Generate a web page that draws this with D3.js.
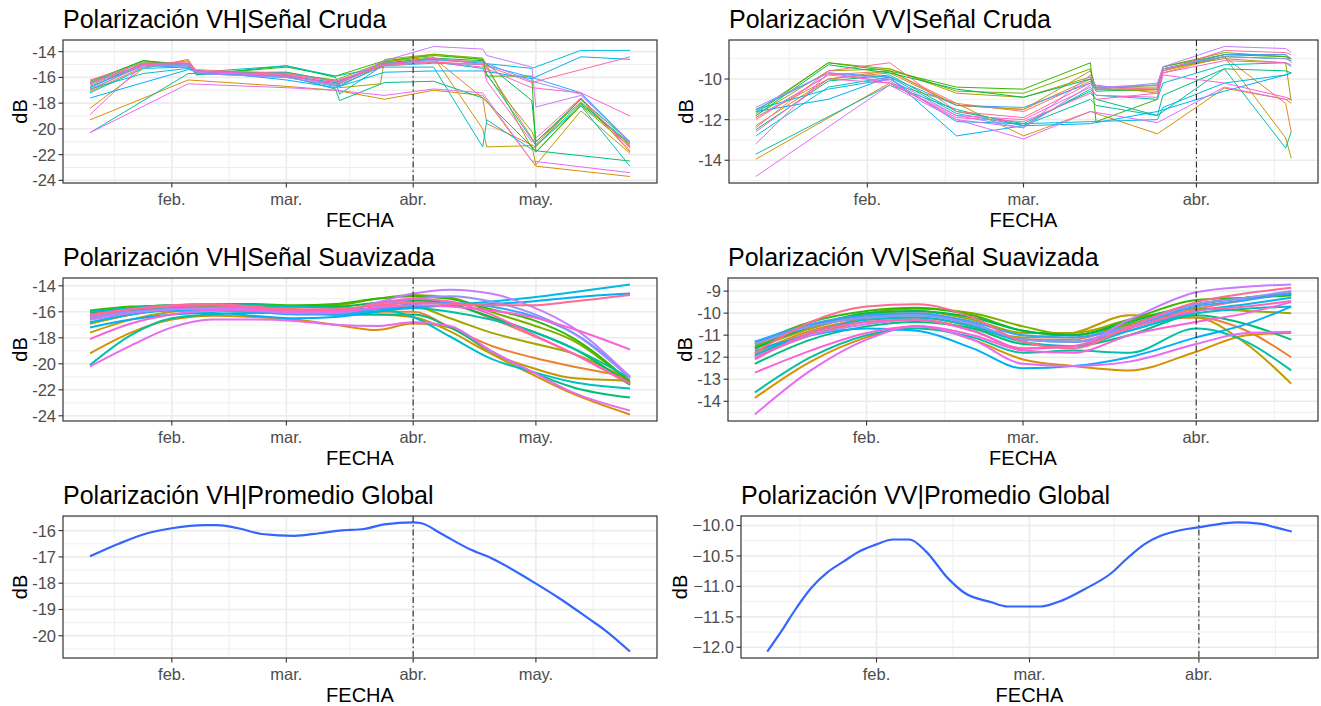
<!DOCTYPE html>
<html><head><meta charset="utf-8">
<script src="https://cdn.jsdelivr.net/npm/d3@7"></script>
<style>body{margin:0;background:#fff}svg{display:block}text{font-family:"Liberation Sans",Arial,sans-serif}</style>
</head><body><svg id="c" width="1321" height="706"></svg>
<script>
// ---------- DATA ----------
const palette = ["#F8766D","#EA8331","#D89000","#C09B00","#A3A500","#7CAE00","#39B600","#00BB4E","#00BF7D","#00C1A3",
                 "#00BFC4","#00BAE0","#00B0F6","#35A2FF","#9590FF","#C77CFF","#E76BF3","#FA62DB","#FF62BC","#FF6C91"];
const monthLabels = ["ene.","feb.","mar.","abr.","may.","jun."];
const refDate = "2021-04-01";

const vhRawDates = ["2021-01-12","2021-01-25","2021-02-05","2021-02-07","2021-03-01","2021-03-13","2021-03-14","2021-03-24",
                    "2021-03-25","2021-04-06","2021-04-18","2021-04-19","2021-04-30","2021-05-01","2021-05-12","2021-05-24"];
const vhRaw = [
 [-16.6,-15.0,-15.0,-15.6,-15.9,-16.4,null,null,-14.9,-14.6,-14.8,null,null,-21.2,-17.7,-21.7],
 [-17.1,-15.2,-14.7,-15.5,-15.8,-16.6,null,null,-14.9,-14.5,-17.6,-19.6,null,-21.4,-17.6,-21.8],
 [-19.3,null,-16.2,null,-16.7,-17.0,null,null,-17.7,-17.0,-17.4,null,null,-22.9,null,-23.7],
 [-18.4,-15.3,-14.6,-15.6,-15.8,-16.6,null,null,-14.8,-14.4,-20.0,-21.4,-21.3,-22.8,-18.6,-21.9],
 [-17.0,-15.0,-14.9,-15.6,-15.6,-16.3,-16.8,-16.5,-14.6,-14.2,-14.6,-15.8,-20.2,-21.0,-17.9,-21.3],
 [-16.5,-14.8,-15.0,-15.5,-15.7,-16.2,null,null,-14.8,-14.2,-14.5,null,-21.5,-21.8,-18.2,-21.4],
 [-16.3,-14.7,-15.0,-15.8,-15.2,-15.9,null,null,-14.7,-14.3,-14.6,-15.9,-15.9,-21.8,-18.1,-21.2],
 [-16.4,-14.7,-15.1,-15.8,-15.1,-16.0,-16.7,null,-14.9,-14.5,-14.7,null,-17.8,-21.0,-17.7,-21.0],
 [-16.8,-14.9,-15.0,-15.7,-15.9,-16.9,-17.8,null,-16.4,-16.3,-17.6,null,null,-21.7,null,-22.5],
 [-20.3,null,-15.7,null,-15.6,-16.3,-17.3,null,-15.0,-14.8,-15.3,null,-20.8,-21.3,-18.0,-21.1],
 [-16.9,-15.7,-15.3,-15.6,-15.1,-15.9,null,null,-15.2,-15.2,-21.4,-19.3,-21.6,null,-18.2,-22.9],
 [-17.2,-15.3,-15.2,-15.6,-15.9,-16.4,null,null,-15.0,-14.6,-14.9,null,-15.3,null,-13.9,-13.9],
 [-17.6,null,-15.4,null,-16.2,-16.8,null,null,-15.6,-15.5,-15.5,null,-16.1,null,-14.4,-14.6],
 [-16.7,-15.1,-15.2,-15.7,-16.0,-16.7,null,null,-15.1,-14.9,-15.0,null,-16.0,null,-17.2,-21.0],
 [-16.5,-15.0,-15.1,-15.7,-16.0,-16.6,null,null,-14.9,-14.7,-14.8,null,-16.3,null,-17.3,-21.1],
 [-16.9,-15.1,-15.0,-15.6,-15.9,-16.5,null,null,-14.7,-13.6,-13.8,-14.3,-15.2,-18.3,-17.4,-21.0],
 [-20.3,null,-16.5,null,-16.8,-17.0,null,null,-17.4,-16.9,-17.2,null,-22.5,null,null,-23.4],
 [-18.9,-15.0,-15.1,-15.5,-15.8,-16.3,null,null,-15.0,-14.8,-15.2,null,-16.8,null,-17.2,-19.0],
 [-16.4,-15.0,-14.8,-15.5,-15.9,-16.5,null,null,-15.0,-14.5,-15.0,-16.3,-21.0,null,-17.6,-21.5],
 [-16.2,-14.9,-14.9,-15.4,-15.7,-16.3,null,null,-15.1,-14.8,-15.0,null,-16.4,null,null,-14.4]
];

const vvRawDates = ["2021-01-12","2021-01-25","2021-02-05","2021-02-17","2021-03-01","2021-03-13","2021-03-14",
                    "2021-03-25","2021-03-26","2021-04-06","2021-04-17","2021-04-18"];
const vvRaw = [
 [-12.0,-9.8,-9.6,-11.2,-11.6,-10.1,-10.4,-10.5,-9.6,-8.8,-8.8,-9.2],
 [-11.9,-10.0,-9.7,-11.3,-11.5,-10.0,-10.3,-10.7,-9.7,-8.9,-11.2,-12.6],
 [-13.95,null,-10.2,-11.2,-12.8,-11.6,null,-12.7,null,-10.45,-11.0,-11.2],
 [-12.3,-10.0,-9.6,-11.3,-11.5,-9.6,-10.5,-10.6,-9.6,-8.9,-12.9,-13.9],
 [-11.8,-9.6,-9.5,-10.7,-10.9,-9.9,-10.4,-10.4,-9.5,-9.0,-9.2,-11.1],
 [-11.6,-9.2,-9.5,-10.6,-10.7,-9.5,-10.5,-10.3,-9.4,-8.7,-8.9,-9.0],
 [-11.7,-9.2,-9.6,-10.4,-10.5,-9.2,-12.1,-11.0,-9.4,-8.8,-8.9,-9.0],
 [-11.8,-9.3,-9.7,-10.5,-10.9,-10.0,-10.6,-10.5,-9.5,-8.9,-9.0,-9.1],
 [-12.5,-10.1,-9.8,-11.6,-12.2,-10.6,-11.0,-11.8,-10.8,-9.5,-9.6,-9.7],
 [-13.7,null,-10.3,-11.5,-12.3,-11.0,-11.3,-11.8,null,-9.5,-13.4,-12.6],
 [-12.8,-10.4,-9.9,-11.7,-12.3,-10.5,-10.8,-11.0,-10.2,-9.3,-9.2,-9.4],
 [-11.5,-10.5,-10.0,-12.1,-12.2,-12.1,null,-12.0,-11.4,-10.2,-9.8,-9.7],
 [-11.6,-11.0,-9.9,-12.8,-12.3,-12.2,null,-11.6,null,-10.6,-9.8,-9.7],
 [-11.5,-9.7,-9.9,-11.3,-11.4,-10.2,-10.4,-10.3,-9.5,-8.8,-8.8,-9.0],
 [-11.4,-9.7,-10.0,-11.8,-12.4,-10.3,-10.5,-10.2,-9.5,-8.9,-9.0,-9.1],
 [-11.9,-9.8,-10.1,-12.0,-12.4,-9.8,-10.4,-10.3,-9.4,-8.4,-8.5,-8.7],
 [-14.8,null,-10.3,-12.0,-12.95,-11.6,null,-12.15,null,-10.4,-11.0,-11.0],
 [-12.6,-10.0,-10.2,-11.8,-12.0,-10.4,-10.8,-10.9,-9.8,-10.2,-10.9,-11.0],
 [-13.2,-9.7,-10.2,-11.9,-12.1,-10.7,-11.0,-10.7,-9.7,-9.1,-9.2,-9.3],
 [-12.4,-9.6,-9.2,-11.6,-11.9,-10.2,-10.5,-10.5,-9.6,-8.6,-8.7,-8.8]
];

const vhSmoothDates = ["2021-01-12","2021-01-22","2021-02-01","2021-02-11","2021-02-21","2021-03-03","2021-03-13",
                       "2021-03-23","2021-04-01","2021-04-10","2021-04-20","2021-04-30","2021-05-10","2021-05-24"];
const vhSmooth = [
 [-16.5,-16.0,-15.7,-15.6,-15.8,-16.0,-16.1,-15.7,-15.2,-15.4,-16.5,-17.8,-19.2,-21.6],
 [-16.9,-16.2,-15.8,-15.7,-15.8,-16.0,-16.2,-16.0,-16.0,-17.2,-18.6,-19.5,-20.2,-21.0],
 [-19.2,-17.6,-16.6,-16.3,-16.4,-16.6,-17.0,-17.4,-16.9,-17.2,-19.2,-20.8,-22.3,-23.9],
 [-17.6,-16.6,-16.0,-15.8,-15.8,-16.0,-16.2,-16.2,-16.4,-17.5,-19.2,-20.3,-21.1,-21.3],
 [-16.9,-16.2,-15.8,-15.6,-15.6,-15.8,-16.0,-15.7,-15.6,-16.5,-17.6,-18.4,-19.2,-21.3],
 [-16.0,-15.7,-15.5,-15.5,-15.5,-15.6,-15.5,-15.0,-14.7,-14.9,-16.0,-17.0,-18.2,-21.5],
 [-15.9,-15.6,-15.5,-15.4,-15.4,-15.5,-15.4,-15.0,-14.8,-15.0,-15.8,-16.6,-18.0,-21.4],
 [-16.1,-15.8,-15.6,-15.5,-15.5,-15.6,-15.6,-15.3,-15.1,-15.4,-16.4,-17.5,-18.8,-21.6],
 [-16.3,-15.9,-15.7,-15.7,-15.8,-16.0,-16.2,-16.2,-16.2,-17.2,-19.0,-20.6,-21.8,-22.6],
 [-20.1,-17.8,-16.5,-16.2,-16.1,-16.1,-16.2,-16.0,-15.7,-16.0,-16.6,-17.5,-18.8,-21.1],
 [-16.0,-15.7,-15.5,-15.5,-15.5,-15.6,-15.7,-15.8,-16.4,-17.9,-19.6,-20.6,-21.4,-21.9],
 [-16.8,-16.2,-15.9,-15.9,-16.0,-16.1,-16.0,-15.8,-15.7,-15.5,-15.2,-14.9,-14.5,-13.9],
 [-17.2,-16.6,-16.2,-16.1,-16.3,-16.5,-16.4,-16.0,-15.6,-15.5,-15.4,-15.2,-14.9,-14.6],
 [-16.6,-16.1,-15.8,-15.8,-16.0,-16.2,-16.2,-15.8,-15.4,-15.3,-15.6,-16.3,-17.6,-21.0],
 [-16.4,-16.0,-15.8,-15.8,-15.9,-16.1,-16.1,-15.6,-15.0,-14.8,-15.2,-16.1,-17.6,-21.1],
 [-16.6,-16.1,-15.8,-15.7,-15.8,-16.0,-16.0,-15.3,-14.6,-14.3,-14.6,-15.6,-17.2,-21.0],
 [-20.2,-18.6,-17.2,-16.6,-16.6,-16.7,-17.0,-17.1,-16.8,-17.1,-19.0,-20.6,-22.2,-23.6],
 [-18.1,-16.9,-16.2,-15.9,-15.9,-16.0,-16.0,-15.7,-15.5,-15.6,-15.9,-16.4,-17.3,-18.9],
 [-16.3,-15.8,-15.6,-15.5,-15.7,-15.9,-15.9,-15.4,-15.0,-15.2,-16.2,-17.7,-19.2,-21.5],
 [-16.2,-15.8,-15.5,-15.4,-15.6,-15.8,-15.8,-15.5,-15.3,-15.4,-15.5,-15.5,-15.2,-14.7]
];

const vvSmoothDates = ["2021-01-12","2021-01-22","2021-02-01","2021-02-10","2021-02-20","2021-03-01","2021-03-10",
                       "2021-03-20","2021-04-01","2021-04-10","2021-04-18"];
const vvSmooth = [
 [-11.9,-10.9,-10.2,-10.0,-10.5,-11.2,-11.3,-10.6,-9.8,-9.4,-9.1],
 [-11.8,-10.8,-10.3,-10.2,-10.6,-11.2,-11.2,-10.5,-10.2,-10.8,-12.0],
 [-13.85,-12.2,-11.1,-10.6,-11.2,-12.1,-12.4,-12.6,-11.75,-11.0,-10.9],
 [-12.0,-11.0,-10.4,-10.3,-10.7,-11.1,-10.9,-10.1,-10.2,-11.4,-13.2],
 [-11.6,-10.7,-10.1,-9.9,-10.3,-10.9,-10.9,-10.3,-9.8,-9.9,-10.0],
 [-11.5,-10.6,-10.0,-9.8,-10.0,-10.6,-11.0,-10.5,-9.6,-9.3,-9.1],
 [-11.4,-10.4,-9.9,-9.75,-10.1,-10.8,-11.0,-10.3,-9.4,-9.3,-9.2],
 [-11.6,-10.6,-10.0,-9.9,-10.2,-10.8,-11.0,-10.4,-9.6,-9.3,-9.15],
 [-12.3,-11.2,-10.6,-10.4,-10.7,-11.4,-11.5,-11.0,-10.1,-10.5,-11.2],
 [-13.6,-12.0,-11.0,-10.7,-11.1,-11.8,-11.7,-11.8,-10.7,-11.3,-12.6],
 [-11.9,-10.9,-10.3,-10.2,-10.6,-11.3,-11.5,-10.8,-10.0,-9.8,-9.7],
 [-11.3,-10.6,-10.2,-10.1,-10.5,-11.2,-11.3,-10.8,-9.9,-9.6,-9.3],
 [-11.7,-11.0,-10.7,-10.8,-11.6,-12.5,-12.4,-12.0,-11.1,-10.5,-9.7],
 [-11.3,-10.5,-10.1,-10.0,-10.4,-11.0,-11.1,-10.6,-9.7,-9.4,-9.1],
 [-11.4,-10.6,-10.2,-10.1,-10.5,-11.2,-11.3,-10.6,-9.6,-9.3,-9.0],
 [-12.0,-11.0,-10.5,-10.3,-10.8,-11.6,-11.5,-10.3,-9.05,-8.8,-8.7],
 [-14.6,-12.6,-11.2,-10.6,-11.2,-12.3,-12.4,-12.2,-11.4,-10.9,-10.85],
 [-12.7,-11.7,-10.9,-10.6,-11.0,-11.7,-11.8,-11.0,-10.4,-10.0,-9.5],
 [-12.1,-10.9,-10.4,-10.3,-10.8,-11.6,-11.5,-10.7,-9.9,-9.7,-9.45],
 [-11.8,-10.4,-9.7,-9.6,-10.2,-11.3,-11.6,-10.6,-9.5,-9.1,-8.85]
];

const vhMeanDates = ["2021-01-12","2021-01-19","2021-01-26","2021-02-01","2021-02-09","2021-02-12","2021-02-17","2021-02-23",
                     "2021-03-03","2021-03-09","2021-03-14","2021-03-20","2021-03-25","2021-04-01","2021-04-03","2021-04-08",
                     "2021-04-15","2021-04-20","2021-04-30","2021-05-07","2021-05-14","2021-05-18","2021-05-24"];
const vhMean = [-16.98,-16.5,-16.1,-15.91,-15.79,-15.79,-15.9,-16.13,-16.2,-16.1,-16.0,-15.94,-15.76,-15.69,-15.72,-16.13,
                -16.72,-17.04,-17.92,-18.6,-19.36,-19.8,-20.6];

const vvMeanDates = ["2021-01-12","2021-01-15","2021-01-17","2021-01-20","2021-01-23","2021-01-26","2021-01-29","2021-02-01",
                     "2021-02-04","2021-02-07","2021-02-10","2021-02-14","2021-02-17","2021-02-22","2021-02-25","2021-03-03",
                     "2021-03-07","2021-03-11","2021-03-16","2021-03-19","2021-03-22","2021-03-25","2021-03-29","2021-04-01",
                     "2021-04-06","2021-04-08","2021-04-12","2021-04-15","2021-04-18"];
const vvMean = [-12.07,-11.68,-11.4,-11.03,-10.77,-10.59,-10.42,-10.31,-10.23,-10.23,-10.42,-10.86,-11.1,-11.26,-11.33,-11.33,
                -11.23,-11.05,-10.78,-10.53,-10.31,-10.17,-10.07,-10.03,-9.96,-9.95,-9.97,-10.03,-10.1];

const yTicksVHRaw = [-24,-22,-20,-18,-16,-14];
const yTicksVVRaw = [-14,-12,-10];
const yTicksVHSmooth = [-24,-22,-20,-18,-16,-14];
const yTicksVVSmooth = [-14,-13,-12,-11,-10,-9];
const yTicksVHMean = [-20,-19,-18,-17,-16];
const yTicksVVMean = [-12.0,-11.5,-11.0,-10.5,-10.0];

// ---------- DRAWING ----------
const parse = d3.utcParse("%Y-%m-%d");
const svg = d3.select("#c");

function drawPanel(cfg) {
  const {title, box, dates, series, yTicks, fmt, kind, vStyle} = cfg;
  const ds = dates.map(parse);
  const g = svg.append("g");
  const [dmin, dmax] = d3.extent(ds);
  const pad = (dmax - dmin) * 0.05;
  const x = d3.scaleUtc().domain([new Date(+dmin - pad), new Date(+dmax + pad)]).range([box.x0, box.x1]);
  const allV = series.flat().filter(v => v != null);
  const [vmin, vmax] = d3.extent(allV);
  const vpad = (vmax - vmin) * 0.05;
  const y = d3.scaleLinear().domain([vmin - vpad, vmax + vpad]).range([box.y1, box.y0]);
  const [xd0, xd1] = x.domain();
  const [yd0, yd1] = y.domain();

  const majors = d3.utcMonth.range(d3.utcMonth.ceil(xd0), xd1);
  const bd = +majors[1] - +majors[0];
  let ext = majors.map(d => +d);
  if (+xd0 < ext[0]) ext.unshift(ext[0] - bd);
  if (+xd1 > ext[ext.length - 1]) ext.push(ext[ext.length - 1] + bd);
  const xMinor = [];
  for (let i = 0; i < ext.length - 1; i++) {
    const m = (ext[i] + ext[i + 1]) / 2;
    if (m > +xd0 && m < +xd1) xMinor.push(new Date(m));
  }
  const ystep = yTicks[1] - yTicks[0];
  const yext = [yTicks[0] - ystep, ...yTicks, yTicks[yTicks.length - 1] + ystep];
  const yMinor = [];
  for (let i = 0; i < yext.length - 1; i++) {
    const m = (yext[i] + yext[i + 1]) / 2;
    if (m > yd0 && m < yd1) yMinor.push(m);
  }
  const grid = g.append("g");
  grid.selectAll(".ymi").data(yMinor).join("line")
    .attr("x1", box.x0).attr("x2", box.x1).attr("y1", d => y(d)).attr("y2", d => y(d))
    .attr("stroke", "#EBEBEB").attr("stroke-width", 0.8);
  grid.selectAll(".xmi").data(xMinor).join("line")
    .attr("y1", box.y0).attr("y2", box.y1).attr("x1", d => x(d)).attr("x2", d => x(d))
    .attr("stroke", "#EBEBEB").attr("stroke-width", 0.8);
  grid.selectAll(".yma").data(yTicks).join("line")
    .attr("x1", box.x0).attr("x2", box.x1).attr("y1", d => y(d)).attr("y2", d => y(d))
    .attr("stroke", "#EBEBEB").attr("stroke-width", 1.6);
  grid.selectAll(".xma").data(majors).join("line")
    .attr("y1", box.y0).attr("y2", box.y1).attr("x1", d => x(d)).attr("x2", d => x(d))
    .attr("stroke", "#EBEBEB").attr("stroke-width", 1.6);

  const line = d3.line().x(p => x(p.d)).y(p => y(p.v));
  if (kind === "smooth" || kind === "mean") line.curve(d3.curveMonotoneX);
  const lg = g.append("g");
  series.forEach((s, i) => {
    const pts = ds.map((d, j) => ({d, v: s[j]})).filter(p => p.v != null);
    lg.append("path").datum(pts).attr("d", line).attr("fill", "none")
      .attr("stroke", kind === "mean" ? "#3366FF" : palette[i % palette.length])
      .attr("stroke-width", kind === "raw" ? 1 : (kind === "mean" ? 2.2 : 2))
      .attr("stroke-linejoin", "round").attr("stroke-linecap", "butt");
  });

  const rx = x(parse(refDate));
  g.append("line").attr("x1", rx).attr("x2", rx).attr("y1", box.y0).attr("y2", box.y1)
    .attr("stroke", vStyle.color).attr("stroke-width", vStyle.width).attr("stroke-dasharray", vStyle.dash);

  g.append("rect").attr("x", box.x0).attr("y", box.y0).attr("width", box.x1 - box.x0).attr("height", box.y1 - box.y0)
    .attr("fill", "none").attr("stroke", "#333333").attr("stroke-width", 1.2);

  const ya = g.append("g");
  ya.selectAll("line").data(yTicks).join("line")
    .attr("x1", box.x0 - 4.5).attr("x2", box.x0).attr("y1", d => y(d)).attr("y2", d => y(d))
    .attr("stroke", "#333333").attr("stroke-width", 1.1);
  const ylabs = ya.selectAll("text").data(yTicks).join("text")
    .attr("x", box.x0 - 7).attr("y", d => y(d)).attr("dy", "0.36em").attr("text-anchor", "end")
    .attr("font-size", 16.5).attr("fill", "#4D4D4D").text(d => fmt(d));
  let maxW = 0; ylabs.each(function(){ maxW = Math.max(maxW, this.getComputedTextLength()); });

  const xa = g.append("g");
  xa.selectAll("line").data(majors).join("line")
    .attr("y1", box.y1).attr("y2", box.y1 + 4.5).attr("x1", d => x(d)).attr("x2", d => x(d))
    .attr("stroke", "#333333").attr("stroke-width", 1.1);
  xa.selectAll("text").data(majors).join("text")
    .attr("x", d => x(d)).attr("y", box.y1 + 22).attr("text-anchor", "middle")
    .attr("font-size", 16.5).attr("fill", "#4D4D4D").text(d => monthLabels[d.getUTCMonth()]);

  g.append("text").attr("x", (box.x0 + box.x1) / 2).attr("y", box.y1 + 44).attr("text-anchor", "middle")
    .attr("font-size", 20).attr("fill", "#000").text("FECHA");
  const yc = (box.y0 + box.y1) / 2;
  const tx = box.x0 - 7 - maxW - 5;
  g.append("text").attr("transform", `translate(${tx},${yc}) rotate(-90)`).attr("text-anchor", "middle")
    .attr("font-size", 20).attr("fill", "#000").text("dB");
  g.append("text").attr("x", box.x0).attr("y", box.y0 - 12).attr("font-size", 25).attr("fill", "#000").text(title);
}

const f0 = d => String(d);
const f1 = d => d3.format(".1f")(d);
const vhLine = {color: "#444", width: 1.3, dash: "6,3,1.5,3"};
const vvLine = {color: "#000", width: 0.9, dash: "6,3,1.5,3"};

drawPanel({title: "Polarización VH|Señal Cruda", box: {x0: 63, x1: 657, y0: 40, y1: 183}, dates: vhRawDates, series: vhRaw,
  yTicks: yTicksVHRaw, fmt: f0, kind: "raw", vStyle: vhLine});
drawPanel({title: "Polarización VV|Señal Cruda", box: {x0: 729, x1: 1318, y0: 40, y1: 183}, dates: vvRawDates, series: vvRaw,
  yTicks: yTicksVVRaw, fmt: f0, kind: "raw", vStyle: vvLine});
drawPanel({title: "Polarización VH|Señal Suavizada", box: {x0: 63, x1: 657, y0: 278, y1: 421}, dates: vhSmoothDates, series: vhSmooth,
  yTicks: yTicksVHSmooth, fmt: f0, kind: "smooth", vStyle: vhLine});
drawPanel({title: "Polarización VV|Señal Suavizada", box: {x0: 728, x1: 1318, y0: 278, y1: 421}, dates: vvSmoothDates, series: vvSmooth,
  yTicks: yTicksVVSmooth, fmt: f0, kind: "smooth", vStyle: vvLine});
drawPanel({title: "Polarización VH|Promedio Global", box: {x0: 63, x1: 657, y0: 516, y1: 658}, dates: vhMeanDates, series: [vhMean],
  yTicks: yTicksVHMean, fmt: f0, kind: "mean", vStyle: vhLine});
drawPanel({title: "Polarización VV|Promedio Global", box: {x0: 741, x1: 1318, y0: 516, y1: 658}, dates: vvMeanDates, series: [vvMean],
  yTicks: yTicksVVMean, fmt: f1, kind: "mean", vStyle: vvLine});
</script></body></html>
